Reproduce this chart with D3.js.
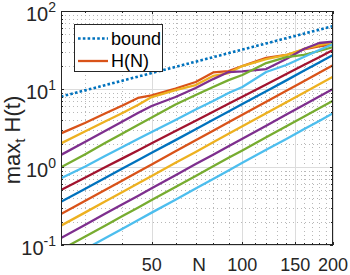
<!DOCTYPE html>
<html><head><meta charset="utf-8">
<script src="https://cdn.jsdelivr.net/npm/d3@7"></script>
<style>body{margin:0;background:#fff}svg{display:block;font-family:Arial,"Liberation Sans",Helvetica,sans-serif}</style>
</head><body><div id="c"></div>
<script>
// N values (x)
const N = [25,30,35,40,45,50,60,70,80,90,100,120,140,160,180,200];
// bound (dotted)
const bound = [8,9.6,11.2,12.8,14.4,16,19.2,22.4,25.6,28.8,32,38.4,44.8,51.2,57.6,64];
// H(N) and the other curves
const hN  = [2.70,3.66,4.85,6.14,7.67,8.26,10.15,12.3,16.3,17.0,19.7,25.0,27.3,32.1,35.1,37.2];
const c3  = [2.01,2.85,3.83,4.92,6.24,7.89,9.70,11.25,14.7,16.0,19.7,24.2,27.3,32.6,36.6,39.5];
const c4  = [1.43,2.09,2.89,3.83,4.92,6.05,7.89,10.3,13.4,16.5,16.8,18.0,24.2,32.6,38.9,40.6];
const c5  = [0.99,1.45,2.03,2.69,3.45,4.31,6.33,8.38,10.6,13.0,15.1,21.5,25.7,27.3,30.7,34.5];
const c6  = [0.716,1.01,1.38,1.80,2.28,2.81,4.01,5.46,7.02,8.89,10.6,16.5,20.3,25.7,31.6,37.8];
const c7  = [0.507,0.729,0.991,1.29,1.63,2.01,2.89,3.92,5.12,6.46,7.96,11.4,15.6,20.3,25.6,31.6];
const c8  = [0.359,0.524,0.723,0.954,1.22,1.52,2.21,3.05,4.03,5.15,6.43,9.37,12.9,17.1,21.8,27.3];
const c9  = [0.249,0.366,0.507,0.673,0.863,1.08,1.59,2.20,2.92,3.74,4.67,6.87,9.52,12.6,16.2,20.2];
const c10 = [0.177,0.26,0.36,0.478,0.614,0.767,1.13,1.56,2.07,2.66,3.32,4.88,6.77,8.97,11.5,14.4];
const c11 = [0.123,0.181,0.251,0.332,0.426,0.533,0.784,1.09,1.44,1.85,2.31,3.39,4.70,6.24,8.0,10.0];
const c12 = [0.087,0.128,0.177,0.235,0.30,0.377,0.554,0.768,1.02,1.31,1.63,2.40,3.33,4.41,5.66,7.07];
const c13 = [0.06,0.088,0.122,0.162,0.208,0.26,0.38,0.53,0.70,0.90,1.13,1.66,2.29,3.04,3.9,4.88];
const xTicks = [50,100,150,200];
const xMinor = [30,40,60,70,80,90,110,120,130,140,160,170,180,190];
const yTicks = [0.1,1,10,100];
const yTickExp = ["-1","0","1","2"];
const legendLabels = ["bound","H(N)"];

const colors = ["#0072BD","#D95319","#EDB120","#7E2F8E","#77AC30","#4DBEEE","#A2142F"];
const series = [bound,hN,c3,c4,c5,c6,c7,c8,c9,c10,c11,c12,c13];

const W=350,H=275, L=61,R=333,T=11,B=245;
const svg=d3.select("#c").append("svg").attr("width",W).attr("height",H);
const x=d3.scaleLog().domain([25,200]).range([L,R]);
const y=d3.scaleLog().domain([0.1,100]).range([B,T]);
const ax="#262626";

const yMinor=[];
[0.1,1,10].forEach(d=>{for(let k=2;k<=9;k++) yMinor.push(d*k);});

const g=svg.append("g");
g.selectAll(".mgx").data(xMinor).join("line").attr("x1",d=>Math.round(x(d))+0.5).attr("x2",d=>Math.round(x(d))+0.5)
 .attr("y1",T).attr("y2",B).attr("stroke","#b8b8b8").attr("stroke-width",1).attr("stroke-dasharray","1 3");
g.selectAll(".mgy").data(yMinor).join("line").attr("y1",d=>Math.round(y(d))+0.5).attr("y2",d=>Math.round(y(d))+0.5)
 .attr("x1",L).attr("x2",R).attr("stroke","#b8b8b8").attr("stroke-width",1).attr("stroke-dasharray","1 3");
g.selectAll(".gx").data(xTicks).join("line").attr("x1",d=>Math.round(x(d))+0.5).attr("x2",d=>Math.round(x(d))+0.5)
 .attr("y1",T).attr("y2",B).attr("stroke","#dcdcdc").attr("stroke-width",1);
g.selectAll(".gy").data(yTicks).join("line").attr("y1",d=>Math.round(y(d))+0.5).attr("y2",d=>Math.round(y(d))+0.5)
 .attr("x1",L).attr("x2",R).attr("stroke","#dcdcdc").attr("stroke-width",1);

svg.append("clipPath").attr("id","clip").append("rect").attr("x",L).attr("y",T).attr("width",R-L).attr("height",B-T);
const line=d3.line().x((d,i)=>x(N[i])).y(d=>y(d));
const lg=svg.append("g").attr("clip-path","url(#clip)");
series.forEach((s,i)=>{
  lg.append("path").datum(s).attr("d",line).attr("fill","none")
    .attr("stroke",colors[i%7]).attr("stroke-width",i===0?2.6:2.3)
    .attr("stroke-dasharray",i===0?"2.6 2.2":null).attr("stroke-linejoin","round");
});

const box=svg.append("g").attr("stroke",ax).attr("stroke-width",1).attr("fill","none");
box.append("rect").attr("x",L+0.5).attr("y",T+0.5).attr("width",R-L-1).attr("height",B-T-1);
const tk=(v,len,isX)=>{
  if(isX){const p=Math.round(x(v))+0.5;
    box.append("line").attr("x1",p).attr("x2",p).attr("y1",B).attr("y2",B-len);
    box.append("line").attr("x1",p).attr("x2",p).attr("y1",T).attr("y2",T+len);}
  else {const p=Math.round(y(v))+0.5;
    box.append("line").attr("y1",p).attr("y2",p).attr("x1",L).attr("x2",L+len);
    box.append("line").attr("y1",p).attr("y2",p).attr("x1",R).attr("x2",R-len);}
};
xTicks.forEach(v=>tk(v,3,true)); xMinor.forEach(v=>tk(v,2,true));
yTicks.forEach(v=>tk(v,3,false)); yMinor.forEach(v=>tk(v,2,false));

svg.selectAll(".xl").data(xTicks).join("text").attr("x",d=>x(d)).attr("y",271)
  .attr("text-anchor","middle").attr("font-size",18).attr("fill",ax).text(d=>d);
yTicks.forEach((v,i)=>{
  const t=svg.append("text").attr("x",56).attr("y",y(v)+10).attr("text-anchor","end").attr("font-size",20).attr("fill",ax);
  t.append("tspan").text("10");
  t.append("tspan").attr("dy",-9).attr("font-size",14).text(yTickExp[i]);
});
svg.append("text").attr("x",199).attr("y",271).attr("text-anchor","middle").attr("font-size",19).attr("fill",ax).text("N");
const yl=svg.append("text").attr("transform","translate(20,140) rotate(-90)").attr("text-anchor","middle").attr("font-size",22).attr("fill",ax);
yl.append("tspan").text("max");
yl.append("tspan").attr("dy",5).attr("font-size",15).text("t");
yl.append("tspan").attr("dy",-5).text(" H(t)");

const lx=74.5,ly=24.5,lw=88,lh=47;
svg.append("rect").attr("x",lx).attr("y",ly).attr("width",lw).attr("height",lh).attr("fill","#fff").attr("stroke",ax).attr("stroke-width",1);
[38.5,61].forEach((yy,i)=>{
  svg.append("line").attr("x1",78).attr("x2",108).attr("y1",yy).attr("y2",yy).attr("stroke",colors[i])
    .attr("stroke-width",i===0?2.6:2.3).attr("stroke-dasharray",i===0?"2.6 2.2":null);
  svg.append("text").attr("x",111).attr("y",yy+6).attr("font-size",18).attr("fill","#000").text(legendLabels[i]);
});
</script></body></html>
